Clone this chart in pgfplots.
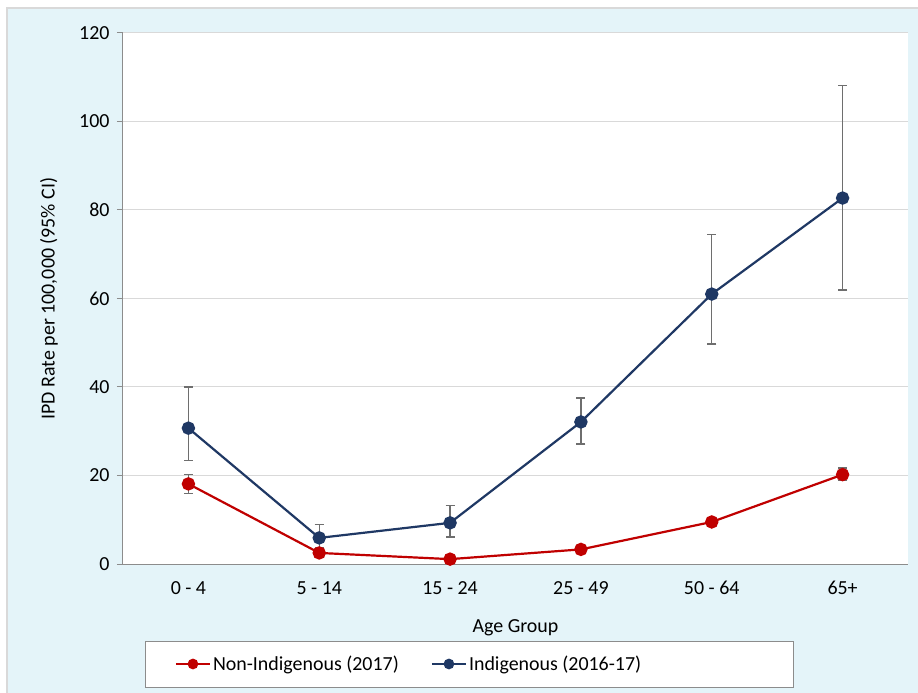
\documentclass[border=0pt]{standalone}
\usepackage{pgfplots}
\pgfplotsset{compat=1.18}
\usepackage{fontspec}
\setmainfont{Carlito}
\definecolor{bgblue}{HTML}{E4F4F9}
\definecolor{redc}{HTML}{C00000}
\definecolor{navyc}{HTML}{1F3864}
\definecolor{errc}{HTML}{6E6E6E}
\definecolor{gridc}{HTML}{D9D9D9}
\definecolor{axc}{HTML}{8C8C8C}
\begin{document}
\begin{tikzpicture}[x=1bp,y=1bp]
\useasboundingbox (-123bp,-129bp) rectangle (795bp,564bp);
\fill[white] (-123bp,-129bp) rectangle (795bp,564bp);
\fill[bgblue] (-116bp,-129bp) rectangle (795bp,556bp);
\draw[gridc,line width=1.5bp] (-116bp,-129bp) -- (-116bp,556bp) -- (795bp,556bp);
\draw[axc,fill=white,line width=1bp] (22bp,-77bp) rectangle (670bp,-123bp);
\begin{axis}[
  at={(0bp,0bp)}, anchor=south west,
  scale only axis, width=785bp, height=531bp,
  xmin=-0.5, xmax=5.5, ymin=0, ymax=120,
  axis background/.style={fill=white},
  axis x line*=bottom, axis y line*=left,
  axis line style={draw=axc, line width=1bp},
  xtick={0,1,2,3,4,5},
  xticklabels={0 - 4, 5 - 14, 15 - 24, 25 - 49, 50 - 64, 65+},
  xtick style={draw=none},
  ytick={0,20,...,120},
  ytick style={draw=axc, line width=1bp},
  tick align=outside, major tick length=6bp,
  ymajorgrids, grid style={draw=gridc, line width=1bp},
  /pgf/number format/assume math mode=true,
  tick label style={font=\fontsize{20}{24}\selectfont},
  yticklabel style={xshift=-4bp},
  xticklabel style={yshift=-8bp},
  label style={font=\fontsize{20}{24}\selectfont},
  xlabel={Age Group},
  ylabel={IPD Rate per 100,000 (95\% CI)},
  x label style={at={(axis description cs:0.5,-0.1205)}, anchor=center},
  y label style={at={(axis description cs:-0.0943,0.5)}, anchor=center, rotate=0},
  legend style={draw=none, fill=none, at={(0.062,-0.1883)}, anchor=west,
    legend columns=2, font=\fontsize{20}{24}\selectfont,
    /tikz/every even column/.append style={column sep=30bp},
    legend cell align=left},
  legend image code/.code={\draw[mark repeat=2,mark phase=2,mark size=4.2bp] plot coordinates {(0bp,0bp)(17bp,0bp)(34bp,0bp)};},
  error bars/y dir=both, error bars/y explicit,
  error bars/error mark options={rotate=90, mark size=4.5bp, line width=1.2bp, errc},
  error bars/error bar style={line width=1.2bp, errc},
]
\addplot[redc, line width=2.2bp, mark=*, mark size=5.6bp, mark options={fill=redc, draw=redc}]
  coordinates {
  (0,18.1) += (0,2.2) -= (0,2.1)
  (1,2.5) += (0,0.5) -= (0,0.5)
  (2,1.1) += (0,0.3) -= (0,0.3)
  (3,3.3) += (0,0.5) -= (0,0.5)
  (4,9.5) += (0,0.9) -= (0,0.9)
  (5,20.2) += (0,1.5) -= (0,1.4)
  };
\addlegendentry{Non-Indigenous (2017)}
\addplot[navyc, line width=2.2bp, mark=*, mark size=5.6bp, mark options={fill=navyc, draw=navyc}]
  coordinates {
  (0,30.7) += (0,9.3) -= (0,7.4)
  (1,5.9) += (0,3.1) -= (0,2.3)
  (2,9.3) += (0,4.0) -= (0,3.2)
  (3,32.1) += (0,5.4) -= (0,5.0)
  (4,61.0) += (0,13.4) -= (0,11.3)
  (5,82.7) += (0,25.5) -= (0,20.8)
  };
\addlegendentry{Indigenous (2016-17)}
\end{axis}
\end{tikzpicture}
\end{document}
